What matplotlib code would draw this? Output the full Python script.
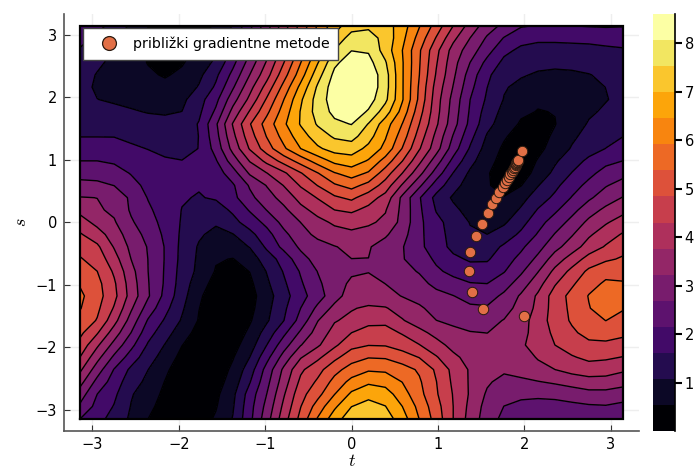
import numpy as np
import matplotlib
matplotlib.use("Agg")
import matplotlib.pyplot as plt
from matplotlib.lines import Line2D

plt.rcParams['mathtext.fontset'] = 'cm'

# grid of the surface, values
t_grid = np.linspace(-np.pi, np.pi, 33)
s_grid = np.linspace(np.pi, -np.pi, 33)

z_grid = [
    [2.15,1.78,1.42,.98,.54,.25,.12,.3,.62,1.1,2.0,3.0,4.05,5.0,5.95,6.75,7.3,7.42,7.25,6.7,5.95,5.15,4.3,3.55,2.95,2.55,2.2,2.12,2.1,2.15,2.18,2.2,2.18],
    [1.8,1.5,1.2,.82,.5,.28,.25,.42,.75,1.38,2.3,3.2,4.25,5.25,6.25,7.15,7.75,7.75,7.35,6.6,5.7,4.8,3.9,3.22,2.62,2.12,1.8,1.72,1.72,1.75,1.78,1.82,1.85],
    [1.55,1.3,1.05,.75,.5,.35,.42,.6,.95,1.75,2.63,3.55,4.5,5.6,6.6,7.55,8.05,8.0,7.3,6.45,5.45,4.45,3.55,2.95,2.35,1.75,1.5,1.42,1.42,1.42,1.43,1.5,1.55],
    [1.38,1.15,.97,.72,.52,.4,.5,.75,1.2,2.0,2.92,3.82,4.82,5.9,6.95,7.95,8.35,8.25,7.58,6.5,5.42,4.35,3.42,2.68,2.0,1.48,1.28,1.2,1.18,1.2,1.22,1.3,1.4],
    [1.25,1.05,.92,.75,.6,.5,.62,.95,1.5,2.3,3.23,4.1,5.15,6.2,7.3,8.2,8.55,8.45,7.75,6.5,5.38,4.25,3.33,2.45,1.72,1.28,1.12,1.02,.98,1.0,1.06,1.15,1.28],
    [1.2,1.02,.95,.82,.7,.65,.75,1.12,1.7,2.62,3.58,4.5,5.55,6.6,7.6,8.35,8.6,8.45,7.75,6.5,5.3,4.1,3.2,2.3,1.62,1.12,.95,.83,.78,.82,.95,1.08,1.22],
    [1.2,1.08,1.02,.95,.88,.85,.95,1.4,2.0,3.0,3.9,4.9,5.9,6.9,7.75,8.35,8.6,8.3,7.65,6.5,5.25,4.0,3.05,2.15,1.53,1.05,.8,.6,.62,.68,.85,1.05,1.2],
    [1.28,1.22,1.18,1.12,1.05,1.02,1.08,1.5,2.25,3.4,4.35,5.25,6.15,7.02,7.75,8.2,8.4,8.0,7.25,6.25,5.05,3.95,2.98,2.08,1.38,.92,.62,.52,.55,.75,1.0,1.15,1.28],
    [1.4,1.42,1.42,1.32,1.25,1.22,1.28,1.65,2.6,3.8,4.8,5.6,6.35,7.03,7.58,7.95,8.08,7.5,6.7,5.9,4.84,3.85,2.9,2.0,1.25,.8,.48,.4,.52,.83,1.12,1.28,1.4],
    [1.6,1.6,1.6,1.52,1.42,1.38,1.38,1.62,2.5,3.62,4.6,5.4,6.1,6.75,7.25,7.6,7.72,7.2,6.5,5.65,4.6,3.62,2.65,1.78,1.02,.6,.3,.35,.62,.98,1.25,1.45,1.6],
    [1.85,1.85,1.78,1.68,1.6,1.53,1.5,1.62,2.35,3.4,4.35,5.12,5.82,6.45,6.9,7.2,7.25,6.85,6.3,5.35,4.35,3.45,2.42,1.55,.85,.45,.2,.4,.75,1.12,1.4,1.62,1.85],
    [2.15,2.15,2.08,1.9,1.75,1.65,1.62,1.65,2.1,2.95,3.8,4.45,5.05,5.6,6.15,6.6,6.75,6.4,5.7,4.85,3.9,2.95,2.0,1.25,.72,.35,.18,.58,1.0,1.38,1.72,2.0,2.15],
    [2.5,2.5,2.35,2.12,1.95,1.82,1.75,1.72,1.88,2.45,3.3,3.75,4.2,4.8,5.35,5.88,6.15,5.85,5.1,4.3,3.4,2.45,1.6,.98,.58,.3,.25,.75,1.2,1.63,2.0,2.35,2.53],
    [2.85,2.8,2.68,2.32,2.02,1.82,1.7,1.65,1.75,2.08,2.75,3.25,3.78,4.35,4.85,5.3,5.55,5.2,4.6,3.7,2.8,1.9,1.28,.82,.58,.38,.52,1.05,1.48,1.92,2.3,2.65,2.88],
    [3.25,3.22,3.0,2.6,2.12,1.82,1.65,1.58,1.67,2.0,2.55,3.0,3.42,3.95,4.33,4.75,4.95,4.55,4.1,3.1,2.2,1.45,1.0,.75,.65,.56,.88,1.35,1.72,2.18,2.6,2.95,3.25],
    [3.6,3.3,3.12,2.62,2.25,1.88,1.6,1.42,1.38,1.7,2.2,2.7,3.1,3.6,3.95,4.3,4.4,4.15,3.8,3.08,2.25,1.58,1.2,.88,.72,.72,1.15,1.65,2.05,2.52,2.98,3.35,3.6],
    [4.0,3.6,3.28,2.75,2.4,1.95,1.57,1.3,1.15,1.45,1.85,2.3,2.85,3.23,3.6,3.85,3.95,3.85,3.65,3.05,2.28,1.75,1.42,1.05,.87,1.0,1.42,1.95,2.4,2.85,3.35,3.7,4.0],
    [4.35,4.0,3.5,2.95,2.52,2.05,1.52,1.15,.92,1.05,1.45,1.95,2.55,3.02,3.35,3.55,3.65,3.55,3.3,2.88,2.28,1.8,1.45,1.15,1.08,1.32,1.72,2.2,2.72,3.18,3.68,4.05,4.35],
    [4.65,4.4,3.72,3.1,2.65,2.12,1.47,1.02,.72,.8,1.1,1.7,2.3,2.78,3.02,3.2,3.35,3.27,3.0,2.72,2.28,1.85,1.48,1.32,1.35,1.7,2.05,2.5,3.05,3.5,4.0,4.35,4.65],
    [4.88,4.62,3.98,3.22,2.68,2.12,1.45,.98,.58,.52,.78,1.35,1.82,2.5,2.88,3.08,3.22,3.22,3.02,2.72,2.45,2.05,1.72,1.55,1.55,1.92,2.3,2.82,3.48,4.0,4.5,4.75,4.9],
    [5.1,4.84,4.22,3.4,2.69,2.1,1.4,.95,.5,.35,.55,1.1,1.65,2.2,2.7,3.0,3.15,3.2,3.05,2.85,2.65,2.25,2.0,1.82,1.85,2.12,2.6,3.2,3.9,4.45,4.95,5.22,5.2],
    [5.32,5.0,4.38,3.5,2.72,2.08,1.35,.78,.35,.22,.42,.98,1.52,2.08,2.58,3.0,3.32,3.42,3.22,3.02,2.85,2.55,2.35,2.18,2.15,2.45,2.95,3.55,4.25,4.75,5.2,5.45,5.42],
    [5.48,5.05,4.45,3.55,2.75,2.0,1.28,.62,.25,.15,.33,.85,1.4,1.95,2.45,3.0,3.5,3.45,3.42,3.2,3.05,2.85,2.7,2.5,2.45,2.8,3.3,3.85,4.55,5.0,5.4,5.7,5.55],
    [5.4,4.95,4.25,3.3,2.45,1.78,1.15,.55,.22,.12,.38,.92,1.5,2.15,2.8,3.38,3.72,3.85,3.8,3.55,3.3,3.05,2.92,2.78,2.75,3.02,3.42,3.9,4.55,4.95,5.35,5.62,5.42],
    [5.2,4.8,3.95,3.0,2.1,1.55,1.02,.5,.2,.12,.48,1.0,1.6,2.35,3.2,3.72,3.9,4.15,4.17,3.8,3.5,3.23,3.12,3.02,3.05,3.25,3.55,4.0,4.55,4.9,5.2,5.38,5.2],
    [4.95,4.35,3.5,2.68,1.82,1.3,.78,.35,.12,.2,.65,1.3,2.02,2.78,3.45,3.95,4.3,4.5,4.5,4.25,3.92,3.6,3.35,3.25,3.22,3.35,3.6,3.98,4.42,4.75,5.0,5.08,4.95],
    [4.65,3.85,3.05,2.3,1.55,1.05,.55,.25,.08,.35,.82,1.61,2.45,3.2,3.68,4.2,4.68,4.82,4.8,4.6,4.32,3.95,3.6,3.45,3.4,3.42,3.68,4.0,4.3,4.55,4.72,4.72,4.65],
    [4.28,3.4,2.58,1.9,1.3,.85,.38,.15,.12,.5,1.08,1.98,2.9,3.72,4.18,4.7,5.15,5.35,5.32,5.1,4.82,4.35,3.88,3.58,3.42,3.35,3.55,3.8,4.0,4.25,4.42,4.38,4.28],
    [3.85,2.95,2.12,1.5,1.08,.65,.22,.08,.2,.65,1.35,2.35,3.33,4.2,4.65,5.2,5.6,5.85,5.82,5.6,5.3,4.75,4.15,3.7,3.45,3.32,3.42,3.62,3.76,3.95,4.05,4.0,3.85],
    [3.4,2.52,1.9,1.3,.95,.52,.15,.05,.3,.78,1.58,2.52,3.5,4.42,4.92,5.55,6.08,6.35,6.25,5.9,5.45,4.85,4.2,3.7,3.3,3.05,3.12,3.2,3.3,3.42,3.55,3.55,3.42],
    [2.95,2.15,1.72,1.12,.8,.42,.12,.05,.42,.95,1.85,2.69,3.7,4.65,5.2,5.9,6.55,6.85,6.7,6.15,5.55,4.9,4.27,3.7,3.15,2.9,2.85,2.82,2.85,2.95,3.05,3.05,2.95],
    [2.58,1.98,1.58,1.05,.68,.32,.12,.15,.5,1.02,1.95,2.85,3.88,4.82,5.6,6.35,6.98,7.15,7.0,6.45,5.75,5.05,4.3,3.62,3.02,2.68,2.5,2.45,2.48,2.55,2.62,2.65,2.55],
    [2.15,1.78,1.43,.98,.54,.25,.12,.3,.6,1.1,2.0,3.0,4.05,5.0,5.95,6.75,7.3,7.42,7.25,6.7,5.9,5.15,4.3,3.55,2.95,2.55,2.2,2.18,2.17,2.18,2.2,2.2,2.15],
]

# gradient method iterates
t_points = [2.0, 1.525, 1.40, 1.36, 1.375, 1.44, 1.51, 1.58, 1.63, 1.67, 1.71, 1.75, 1.775, 1.80,
            1.82, 1.84, 1.855, 1.87, 1.88, 1.89, 1.90, 1.905, 1.91, 1.915, 1.92, 1.925, 1.93, 1.97]
s_points = [-1.5, -1.38, -1.11, -0.78, -0.48, -0.22, -0.03, 0.15, 0.29, 0.39, 0.48, 0.56, 0.62, 0.68,
            0.73, 0.77, 0.81, 0.84, 0.87, 0.89, 0.91, 0.93, 0.945, 0.96, 0.97, 0.98, 0.99, 1.14]

legend_label = "približki gradientne metode"
levels = np.linspace(0, 8.6, 17)
colors = plt.cm.inferno(np.linspace(0, 1, 16))

fig = plt.figure(figsize=(6.95, 4.71), dpi=100)
ax = fig.add_axes([64 / 695, 1 - 430.5 / 471, 575 / 695, 416.5 / 471])
cax = fig.add_axes([653 / 695, 1 - 431 / 471, 22 / 695, 417 / 471])

# contour surface
cf = ax.contourf(t_grid, s_grid, z_grid, levels=levels, colors=colors, zorder=2)
ax.contour(t_grid, s_grid, z_grid, levels=levels[1:-1], colors='black', linewidths=1, zorder=3)
ax.plot([-np.pi, np.pi, np.pi, -np.pi, -np.pi], [-np.pi, -np.pi, np.pi, np.pi, -np.pi],
        color='black', lw=1.6, zorder=4, solid_joinstyle='miter')

ax.plot(t_points, s_points, 'o', color='#e26f46', ms=7.5, mec='#2a1a10', mew=0.7, zorder=5, clip_on=False)

ax.set_xlim(-3.33, 3.33)
ax.set_ylim(-3.33, 3.33)
ax.set_xticks([-3, -2, -1, 0, 1, 2, 3])
ax.set_yticks([-3, -2, -1, 0, 1, 2, 3])
ax.tick_params(direction='in', length=4, width=0.8, color='#333333', labelsize=10.5, pad=5)
ax.grid(True, color='#eeeeee', lw=1, zorder=0)
ax.set_axisbelow(True)
for side in ['top', 'right']:
    ax.spines[side].set_visible(False)
for side in ['left', 'bottom']:
    ax.spines[side].set_color('#555555')
    ax.spines[side].set_linewidth(1.2)

ax.set_xlabel('$t$', fontsize=13, labelpad=0)
ax.set_ylabel('$s$', fontsize=13, labelpad=4)

handle = Line2D([], [], marker='o', ls='none', color='#e26f46', ms=10, mec='#2a1a10', mew=0.9)
leg = ax.legend([handle], [legend_label], loc='upper left', bbox_to_anchor=(19 / 575, 402.5 / 416.5),
                borderaxespad=0, fontsize=10.2, fancybox=False, framealpha=1, edgecolor='#444444',
                borderpad=0.6, handletextpad=0.4, handlelength=2.5)
leg.set_zorder(10)

# colorbar
cb = fig.colorbar(cf, cax=cax, ticks=[1, 2, 3, 4, 5, 6, 7, 8])
cb.ax.tick_params(direction='out', length=5, width=1.5, labelsize=10.5, pad=2)
cb.outline.set_visible(False)
cax.axvline(cax.get_xlim()[1], color='black', lw=1.2, clip_on=False)

plt.savefig('out.png', dpi=100)
